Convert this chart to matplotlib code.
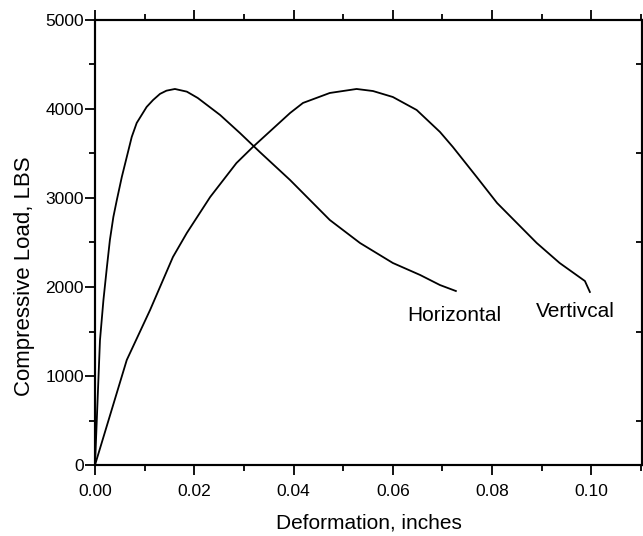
import numpy as np
import matplotlib
matplotlib.use("Agg")
from matplotlib import pyplot as plt
from matplotlib.ticker import MultipleLocator, FormatStrFormatter

# data (deformation in inches, load in lbs)
horizontal_x = [0.0, 0.001, 0.0017, 0.0024, 0.003, 0.0037, 0.0044, 0.0054, 0.0074,
                0.0084, 0.0104, 0.0117, 0.0131, 0.0144, 0.0161, 0.0185, 0.0207,
                0.0252, 0.0292, 0.0332, 0.0393, 0.0473, 0.0534, 0.060, 0.0655,
                0.0695, 0.0727]
horizontal_y = [0, 1400, 1854, 2225, 2528, 2787, 2978, 3236, 3686,
                3843, 4023, 4101, 4170, 4206, 4225, 4195, 4124,
                3933, 3730, 3517, 3202, 2753, 2494, 2270, 2135,
                2022, 1955]

vertical_x = [0.0, 0.0064, 0.0111, 0.0157, 0.0185, 0.0232, 0.0285, 0.0318, 0.0393,
              0.0419, 0.0473, 0.0527, 0.056, 0.060, 0.0648, 0.0695, 0.0721,
              0.0769, 0.081, 0.085, 0.089, 0.0936, 0.0987, 0.0997]
vertical_y = [0, 1180, 1742, 2337, 2607, 3011, 3393, 3573, 3955,
              4068, 4180, 4225, 4202, 4135, 3989, 3742, 3573,
              3236, 2944, 2719, 2494, 2270, 2067, 1944]

curve_labels = ["Horizontal", "Vertivcal"]
label_x = [0.0724, 0.0968]
label_y = [1685, 1730]

x_label = "Deformation, inches"
y_label = "Compressive Load, LBS"

plt.rcParams['font.family'] = ['Liberation Sans', 'DejaVu Sans']

fig = plt.figure(figsize=(6.43, 5.36), dpi=100)
ax = fig.add_axes([95 / 643, (536 - 465) / 536, (642 - 95) / 643, (465 - 20) / 536])

ax.plot(horizontal_x, horizontal_y, color='black', lw=1.3)
ax.plot(vertical_x, vertical_y, color='black', lw=1.3)

for txt, tx, ty in zip(curve_labels, label_x, label_y):
    ax.text(tx, ty, txt, fontsize=15, ha='center', va='center')

ax.set_xlim(0, 0.1102)
ax.set_ylim(0, 5000)

ax.xaxis.set_major_locator(MultipleLocator(0.02))
ax.xaxis.set_minor_locator(MultipleLocator(0.01))
ax.xaxis.set_major_formatter(FormatStrFormatter('%.2f'))
ax.yaxis.set_major_locator(MultipleLocator(1000))
ax.yaxis.set_minor_locator(MultipleLocator(500))

ax.tick_params(which='both', direction='out', top=True, right=False,
               width=1.3, labelsize=12.5)
ax.tick_params(which='major', length=7)
ax.tick_params(which='minor', length=4)
ax.tick_params(axis='x', which='major', pad=7)
ax.tick_params(axis='y', which='major', pad=1)

# right side only shows short inward minor ticks
ax2 = ax.twinx()
ax2.set_ylim(ax.get_ylim())
ax2.yaxis.set_major_locator(MultipleLocator(1000))
ax2.yaxis.set_minor_locator(MultipleLocator(500))
ax2.tick_params(which='major', length=0, labelright=False)
ax2.tick_params(which='minor', direction='in', length=4, width=1.3)

for a in (ax, ax2):
    for s in a.spines.values():
        s.set_linewidth(1.5)

ax.set_xlabel(x_label, fontsize=15, labelpad=10)
ax.set_ylabel(y_label, fontsize=16)
ax.yaxis.set_label_coords(-0.11, 0.425)

fig.savefig('out.png', dpi=100)
